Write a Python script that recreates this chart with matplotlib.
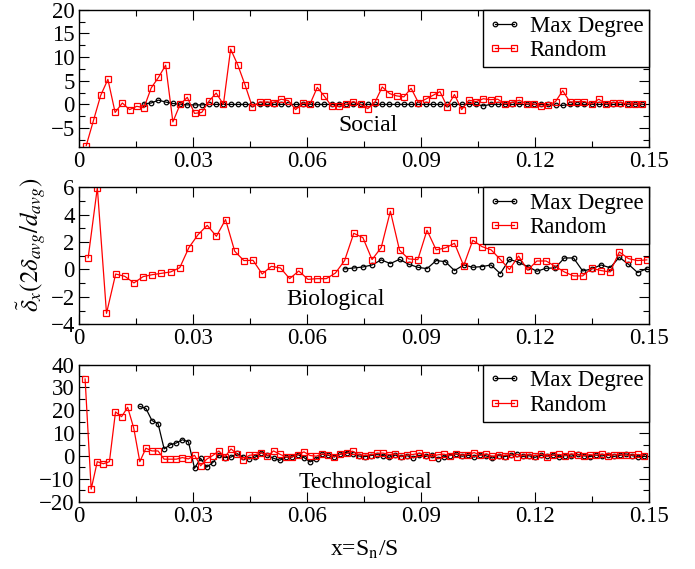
import numpy as np
import matplotlib
matplotlib.use("Agg")
import matplotlib.pyplot as plt
from matplotlib.ticker import MultipleLocator, FixedLocator

plt.rcParams['font.family'] = ['Liberation Serif', 'DejaVu Serif']
plt.rcParams['mathtext.fontset'] = 'stix'

# -------------------------
# data
# -------------------------
# Social: step 0.0019, Max Degree starts at point 9
social_step = 0.0019
social_random = [-8.7, -3.4, 1.9, 5.3, -1.7, 0.3, -1.1, -0.4, -0.7, 3.5,
                 5.7, 8.3, -3.7, 0.0, 1.5, -1.9, -1.7, 0.7, 2.4, 0.0,
                 11.7, 8.3, 4.1, -0.5, 0.5, 0.5, 0.4, 1.1, 0.8, -1.1,
                 0.3, 0.1, 3.6, 1.7, -0.4, -0.4, 0.0, 0.6, 0.0, -0.9,
                 0.5, 3.7, 2.3, 1.8, 1.6, 3.4, 0.4, 1.1, 1.9, 2.7,
                 -0.5, 2.1, -1.1, 0.9, 0.6, 1.2, 1.0, 1.1, 0.1, 0.4,
                 0.9, 0.1, 0.1, -0.4, -0.2, 0.6, 2.9, 0.5, 0.6, 0.6,
                 0.1, 1.1, 0.1, 0.4, 0.4, 0.1, 0.1, 0.1]
social_maxdeg_start = 9
social_maxdeg = [0.1, 0.3, 0.9, 0.5, 0.2, 0.0, -0.1, -0.1, -0.1, 0.0,
                 0.0, 0.0, 0.0, 0.0, 0.0, 0.0, 0.0, 0.0, 0.0, 0.0,
                 0.0, 0.0, 0.0, 0.0, 0.0, 0.0, 0.0, 0.0, 0.0, 0.0,
                 0.0, 0.0, 0.0, 0.0, 0.0, 0.0, 0.0, 0.0, 0.0, 0.0,
                 0.0, 0.0, 0.0, 0.0, 0.0, 0.0, 0.0, -0.3, 0.0, 0.0,
                 0.0, 0.0, 0.0, 0.0, 0.0, 0.0, 0.0, -0.2, -0.2, 0.0,
                 0.0, 0.0, 0.0, 0.0, 0.0, 0.0, 0.0, 0.0, 0.0, 0.0]

# Biological: step 0.00241, Max Degree starts at point 29
bio_step = 0.00241
bio_random = [0.86, 5.97, -3.2, -0.33, -0.5, -0.98, -0.52, -0.38, -0.28, -0.18,
              0.13, 1.6, 2.54, 3.22, 2.42, 3.64, 1.33, 0.65, 0.67, -0.33,
              0.23, 0.11, -0.67, -0.11, -0.72, -0.67, -0.67, -0.26, 0.65, 2.64,
              2.32, 0.72, 1.6, 4.25, 1.4, 0.77, 0.72, 2.86, 1.43, 1.57,
              1.91, 0.28, 2.13, 1.67, 1.43, 0.74, 0.0, 0.98, -0.04, 0.62,
              0.62, 0.23, -0.18, -0.47, -0.47, 0.09, -0.08, -0.18, 1.28, 0.79,
              0.65, 0.7]
bio_maxdeg_start = 29
bio_maxdeg = [0.04, 0.11, 0.18, 0.33, 0.7, 0.43, 0.74, 0.38, 0.16, 0.06,
              0.65, 0.57, -0.08, 0.33, 0.16, 0.21, 0.33, -0.3, 0.74, 0.52,
              0.21, -0.13, 0.09, 0.11, 0.84, 0.84, -0.11, 0.04, 0.33, 0.13,
              0.89, 0.38, -0.23, 0.06]

# Technological: step 0.0016, Max Degree starts at point 10
tech_step = 0.0016
tech_random = [33.7, -14.5, -2.5, -3.4, -2.5, 19.3, 17.2, 21.3, 12.2, -2.5,
               3.4, 2.2, 2.2, -1.4, -1.4, -1.4, -0.7, -1.3, 0.3, -4.3,
               -1.4, 0.2, 2.2, -0.4, 3.1, 0.8, -1.6, 0.3, 0.6, 1.4,
               0.0, 2.2, 0.8, -0.4, -0.4, 0.5, 1.8, 0.2, -0.1, 0.9,
               0.5, -0.4, 0.8, 1.1, 2.1, 0.6, 0.2, 0.5, 1.1,
               1.3, 0.6, 0.9, -0.2, 0.4, 0.7, 1.2, 0.3, -0.3, 0.5,
               0.8, 0.2, 1.0, 0.4, 0.6, 1.5, 0.3, 0.9, -0.2, 0.5,
               0.2, 0.7, -0.4, 0.3, 0.6, 0.1, 0.8, -0.3, 0.4, 0.7,
               0.2, 0.9, 0.5, 0.1, 0.6, 0.3, 0.8, 0.2, 0.5, 0.6,
               0.3, 0.4, 0.7, 0.2]
tech_maxdeg_start = 10
tech_maxdeg = [21.7, 20.8, 15.5, 14.2, 3.1, 4.9, 5.7, 7.1, 6.2, -5.4,
               -1.0, -4.9, -2.9, 0.3, -0.7, -0.5, 1.1, -0.5, -1.3, -0.5,
               1.5, 0.3, -1.0, -1.9, -0.5, -0.5, 0.6, -0.7, -2.6, -1.3,
               0.8, 0.3, -0.4, 0.8, 1.5, 0.8, 0.0, -0.3, 0.2, 0.6,
               0.2, -0.6, 0.4, -0.3, 0.1, -0.8, 0.3, -0.2, 0.5, -1.2,
               -0.4, 0.2, 0.9, -0.1, 0.3, -0.5, 0.6, 0.0, -0.9, 0.2,
               -0.3, 0.4, 0.8, -0.2, 0.1, -0.6, 0.3, 0.0, 0.5, -0.4,
               0.2, -0.1, 0.7, 0.1, -0.3, 0.4, 0.0, 0.6, -0.2, 0.3,
               0.9, 0.1, -0.4, 0.2]

x_ticks = [0, 0.03, 0.06, 0.09, 0.12, 0.15]
x_ticklabels = ["0", "0.03", "0.06", "0.09", "0.12", "0.15"]

panels = [
    ("Social", social_step, social_random, social_maxdeg_start, social_maxdeg,
     (-9, 20), 5, 2.5, (0.076, -4.4)),
    ("Biological", bio_step, bio_random, bio_maxdeg_start, bio_maxdeg,
     (-4, 6), 2, 1, (0.0676, -2.2)),
    ("Technological", tech_step, tech_random, tech_maxdeg_start, tech_maxdeg,
     (-20, 40), 10, 5, (0.0755, -11.4)),
]

fig = plt.figure(figsize=(6.95, 5.69), dpi=100)
bottoms = [0.7417, 0.430, 0.1183]

for (name, step, rnd, start, mxd, ylim, ymaj, ymin, txt), b in zip(panels, bottoms):
    ax = fig.add_axes([0.1137, b, 0.8201, 0.241])
    x_rnd = step * np.arange(1, len(rnd) + 1)
    x_mxd = step * np.arange(start, start + len(mxd))
    ax.plot(x_mxd, mxd, color="black", lw=0.9, marker="o", ms=3.3,
            mfc="none", mew=0.9, label="Max Degree")
    ax.plot(x_rnd, rnd, color="red", lw=0.9, marker="s", ms=4.0,
            mfc="none", mew=0.9, label="Random")
    ax.set_xlim(0, 0.15)
    ax.set_ylim(*ylim)
    ax.xaxis.set_major_locator(FixedLocator(x_ticks))
    ax.set_xticklabels(x_ticklabels)
    ax.xaxis.set_minor_locator(MultipleLocator(0.015))
    ax.yaxis.set_major_locator(MultipleLocator(ymaj))
    ax.yaxis.set_minor_locator(MultipleLocator(ymin))
    ax.tick_params(which="both", direction="in", top=True, right=True,
                   width=0.8, labelsize=16.5, pad=3)
    ax.tick_params(which="major", length=7)
    ax.tick_params(which="minor", length=4)
    for s in ax.spines.values():
        s.set_linewidth(1.0)
    ax.text(txt[0], txt[1], name, fontsize=17, ha="center", va="center")
    leg = ax.legend(loc="upper right", borderaxespad=0, fontsize=16.5,
                    fancybox=False, framealpha=1, edgecolor="black",
                    numpoints=2, handlelength=1.4, handletextpad=0.4,
                    borderpad=0.25, labelspacing=0.15)
    leg.get_frame().set_linewidth(1.0)

fig.text(0.0446, 0.569, r"$\tilde{\delta}_x(2\delta_{avg}/d_{avg})$",
         rotation=90, fontsize=18, ha="center", va="center")
fig.text(0.524, 0.0333, r"x=S$_{\mathrm{n}}$/S", fontsize=17,
         ha="center", va="center")

fig.savefig("out.png", dpi=100)
